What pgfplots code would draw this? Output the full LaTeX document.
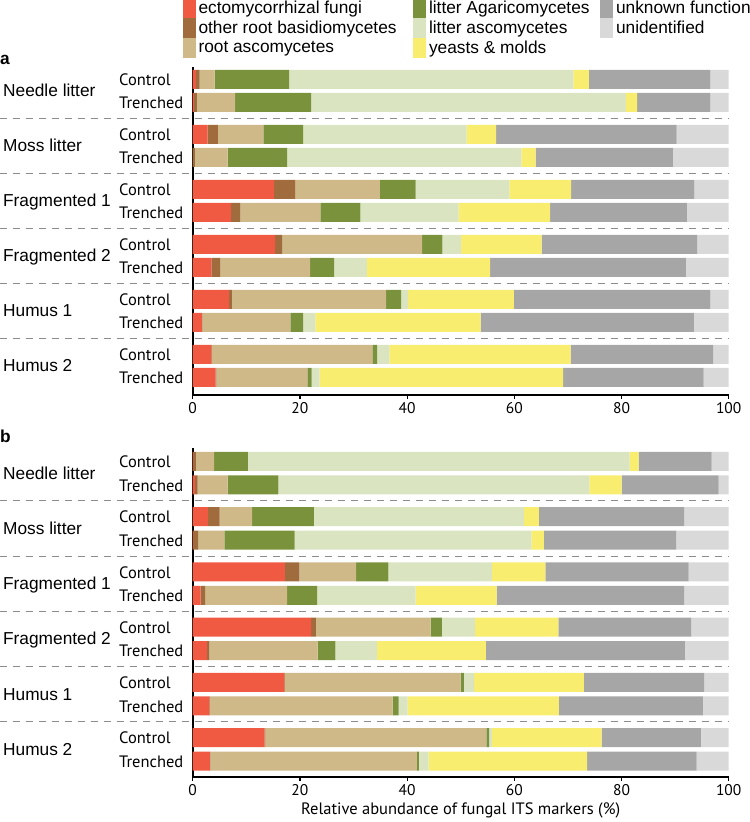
\documentclass[border=0pt]{standalone}
\usepackage{pgfplots}
\pgfplotsset{compat=1.18}
\usepackage{pgfplotstable}
\usepackage{fontspec}
\setmainfont{Liberation Sans}
\newfontfamily\pts{PT Sans}

\definecolor{cEcto}{RGB}{240,90,66}
\definecolor{cOrb}{RGB}{161,108,61}
\definecolor{cRasc}{RGB}{207,185,137}
\definecolor{cLagr}{RGB}{122,146,59}
\definecolor{cLasc}{RGB}{218,228,192}
\definecolor{cYeast}{RGB}{249,237,112}
\definecolor{cUnk}{RGB}{166,166,166}
\definecolor{cUnid}{RGB}{217,217,217}
\definecolor{cSep}{RGB}{140,140,140}

% panel a
\pgfplotstableread{
y      ecto orb rasc lagr lasc yeast unk  unid
-12.5  0.6  0.7 2.8  13.9 53.0 2.9   22.7 3.4
-35.5  0.2  0.6 7.1  14.2 58.7 2.1   13.7 3.4
-67.5  2.8  1.9 8.5  7.4  30.5 5.5   33.7 9.7
-90.5  0.0  0.4 6.1  11.1 43.7 2.7   25.6 10.4
-122.5 15.2 3.9 15.8 6.7  17.5 11.5  23.0 6.4
-145.5 7.1  1.8 14.9 7.5  18.3 17.1  25.5 7.8
-177.5 15.4 1.3 26.1 3.8  3.5  15.0  29.0 5.9
-200.5 3.5  1.6 16.8 4.5  6.1  23.0  36.5 8.0
-232.5 6.8  0.5 28.8 2.8  1.3  19.7  36.7 3.4
-255.5 1.7  0.1 16.4 2.4  2.3  30.8  39.8 6.5
-287.5 3.5  0.1 29.9 0.9  2.3  33.8  26.6 2.9
-310.5 4.3  0.1 17.0 0.8  1.5  45.4  26.2 4.7
}\tablea

% panel b
\pgfplotstableread{
y      ecto orb rasc lagr lasc yeast unk  unid
-13.5  0.1  0.5 3.4  6.3  71.2 1.7   13.6 3.2
-37.0  0.4  0.5 5.6  9.5  58.0 6.0   18.1 1.9
-68.7  2.9  2.1 6.1  11.5 39.2 2.8   27.1 8.3
-92.2  0.1  0.9 4.9  13.1 44.2 2.3   24.7 9.8
-123.9 17.2 2.7 10.6 6.0  19.3 10.0  26.7 7.5
-147.4 1.5  0.8 15.3 5.6  18.4 15.1  35.0 8.3
-179.1 22.1 0.9 21.4 2.1  6.2  15.5  24.8 7.0
-202.6 2.7  0.4 20.2 3.3  7.8  20.3  37.1 8.2
-234.3 17.1 0.1 32.8 0.6  1.9  20.5  22.4 4.6
-257.8 3.1  0.1 34.1 1.1  1.7  28.2  26.9 4.8
-289.5 13.4 0.1 41.3 0.5  0.5  20.5  18.5 5.2
-313.0 3.2  0.1 38.5 0.4  1.8  29.6  20.4 6.0
}\tableb

\newcommand\labfont{\fontsize{17.3bp}{20bp}\selectfont}
\newcommand\rowfont{\pts\fontsize{16.5bp}{19bp}\selectfont}

\tikzset{sepline/.style={draw=cSep, line width=1bp, dash pattern=on 7bp off 6bp}}

\pgfplotsset{
  sqlegend/.style={legend image code/.code={%
      \path (0bp,-9.85bp) rectangle (13bp,9.85bp);
      \fill[##1] (0bp,-6.65bp) rectangle (13bp,6.65bp);}},
  panel/.style={
    scale only axis, width=536bp,
    xmin=0, xmax=100, xbar stacked, bar width=19bp,
    axis x line*=bottom, axis y line*=left,
    ytick=\empty, xtick={0,20,40,60,80,100},
    tick align=outside, major tick length=4bp,
    axis line style={line width=1.6bp, black},
    x tick style={line width=1.2bp, black},
    ticklabel style={font=\pts\fontsize{15.5bp}{18bp}\selectfont},
    /pgf/number format/assume math mode=true,
    clip=false,
    every axis plot post/.append style={sqlegend},
  },
}

% #1 name, #3 group baseline, #4 control baseline, #5 trenched baseline
\newcommand\grp[5]{%
  \node[anchor=base west, font=\labfont, inner sep=0pt] at (axis cs:-35.4,#3) {#1};
  \node[anchor=base west, font=\rowfont, inner sep=0pt] at (axis cs:-13.75,#4) {Control};
  \node[anchor=base west, font=\rowfont, inner sep=0pt] at (axis cs:-13.75,#5) {Trenched};
}

\begin{document}
\begin{tikzpicture}
\path[use as bounding box] (0,0) rectangle (750bp,822bp);

% ---------------- panel a
\begin{axis}[panel, height=328bp, ymin=-328, ymax=0,
  at={(460.7bp,591bp)}, anchor=center,
  legend style={at={(axis cs:-1.9,68.55)}, anchor=north west, draw=none, fill=none,
    inner sep=0pt, outer sep=0pt, row sep=0pt, column sep=0pt,
    nodes={inner sep=0pt, outer sep=0pt},
    /tikz/every odd column/.append style={column sep=3bp},
    font=\labfont},
  legend cell align=left, transpose legend, legend columns=3,
]
\addplot[fill=cEcto, draw=none] table[x=ecto, y=y] {\tablea};
\addlegendentry{\makebox[214.5bp][l]{ectomycorrhizal fungi}}
\addplot[fill=cOrb, draw=none] table[x=orb, y=y] {\tablea};
\addlegendentry{\makebox[214.5bp][l]{other root basidiomycetes}}
\addplot[fill=cRasc, draw=none] table[x=rasc, y=y] {\tablea};
\addlegendentry{\makebox[214.5bp][l]{root ascomycetes}}
\addplot[fill=cLagr, draw=none] table[x=lagr, y=y] {\tablea};
\addlegendentry{\makebox[171bp][l]{litter Agaricomycetes}}
\addplot[fill=cLasc, draw=none] table[x=lasc, y=y] {\tablea};
\addlegendentry{\makebox[171bp][l]{litter ascomycetes}}
\addplot[fill=cYeast, draw=none] table[x=yeast, y=y] {\tablea};
\addlegendentry{\makebox[171bp][l]{yeasts \& molds}}
\addplot[fill=cUnk, draw=none] table[x=unk, y=y] {\tablea};
\addlegendentry{unknown function}
\addplot[fill=cUnid, draw=none] table[x=unid, y=y] {\tablea};
\addlegendentry{unidentified}

\node[anchor=base west, font=\bfseries\labfont, inner sep=0pt] at (axis cs:-35.95,2) {a};
\grp{Needle litter}{}{-29.9}{-18.8}{-41.8}
\grp{Moss litter}{}{-84.9}{-73.8}{-96.8}
\grp{Fragmented 1}{}{-139.9}{-128.8}{-151.8}
\grp{Fragmented 2}{}{-194.9}{-183.8}{-206.8}
\grp{Humus 1}{}{-249.9}{-238.8}{-261.8}
\grp{Humus 2}{}{-304.9}{-293.8}{-316.8}
\draw[sepline] (axis cs:-36,-51.5) -- (axis cs:100,-51.5);
\draw[sepline] (axis cs:-36,-106.5) -- (axis cs:100,-106.5);
\draw[sepline] (axis cs:-36,-161.5) -- (axis cs:100,-161.5);
\draw[sepline] (axis cs:-36,-216.5) -- (axis cs:100,-216.5);
\draw[sepline] (axis cs:-36,-271.5) -- (axis cs:100,-271.5);
\end{axis}

% ---------------- panel b
\begin{axis}[panel, height=329bp, ymin=-329, ymax=0,
  at={(460.7bp,209.5bp)}, anchor=center,
  xlabel={Relative abundance of fungal ITS markers (\%)},
  xlabel style={font=\pts\fontsize{16.5bp}{19bp}\selectfont},
]
\addplot[fill=cEcto, draw=none] table[x=ecto, y=y] {\tableb};
\addplot[fill=cOrb, draw=none] table[x=orb, y=y] {\tableb};
\addplot[fill=cRasc, draw=none] table[x=rasc, y=y] {\tableb};
\addplot[fill=cLagr, draw=none] table[x=lagr, y=y] {\tableb};
\addplot[fill=cLasc, draw=none] table[x=lasc, y=y] {\tableb};
\addplot[fill=cYeast, draw=none] table[x=yeast, y=y] {\tableb};
\addplot[fill=cUnk, draw=none] table[x=unk, y=y] {\tableb};
\addplot[fill=cUnid, draw=none] table[x=unid, y=y] {\tableb};

\node[anchor=base west, font=\bfseries\labfont, inner sep=0pt] at (axis cs:-35.95,5) {b};
\grp{Needle litter}{}{-31.2}{-19.8}{-43.3}
\grp{Moss litter}{}{-86.4}{-75.0}{-98.5}
\grp{Fragmented 1}{}{-141.6}{-130.2}{-153.7}
\grp{Fragmented 2}{}{-196.8}{-185.4}{-208.9}
\grp{Humus 1}{}{-252.0}{-240.6}{-264.1}
\grp{Humus 2}{}{-307.2}{-295.8}{-319.3}
\draw[sepline] (axis cs:-36,-52.85) -- (axis cs:100,-52.85);
\draw[sepline] (axis cs:-36,-108.05) -- (axis cs:100,-108.05);
\draw[sepline] (axis cs:-36,-163.25) -- (axis cs:100,-163.25);
\draw[sepline] (axis cs:-36,-218.45) -- (axis cs:100,-218.45);
\draw[sepline] (axis cs:-36,-273.65) -- (axis cs:100,-273.65);
\end{axis}
\end{tikzpicture}
\end{document}
